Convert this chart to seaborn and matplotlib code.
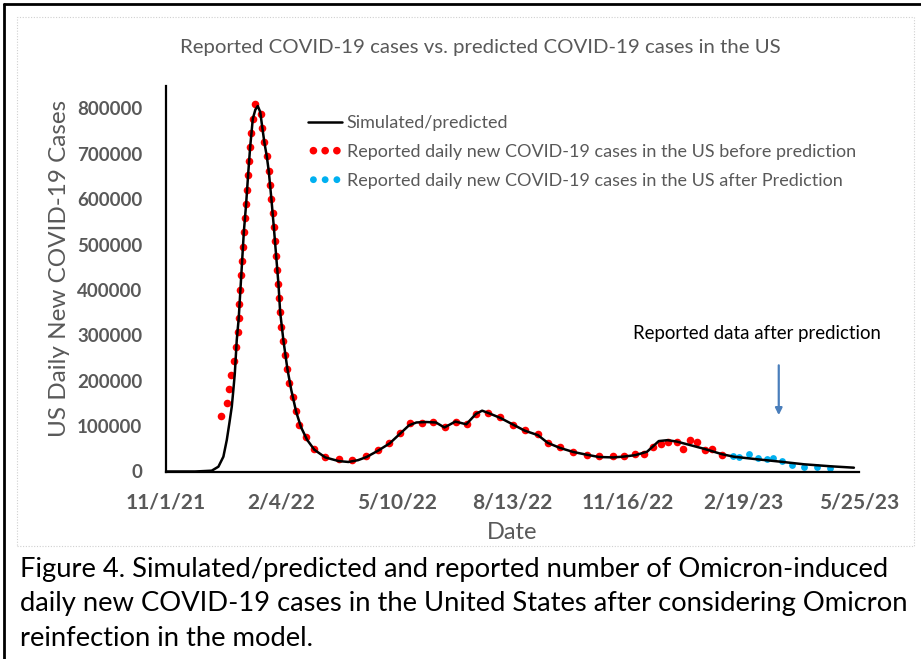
import numpy as np
import pandas as pd
import seaborn as sns
import matplotlib.pyplot as plt
from matplotlib.lines import Line2D
from matplotlib.patches import Rectangle


# days after 11/1/21, values in thousands
sim_days = [0, 23.9, 37.6, 43.1, 47.2, 50.0, 52.1, 54.1, 55.4, 56.6,
            57.4, 58.2, 59.8, 61.2, 62.6, 64.0, 65.9, 67.5, 69.2, 71.4,
            73.5, 75.5, 77.5, 79.3, 80.9, 82.9, 84.5, 86.7, 88.7, 90.6,
            92.5, 93.9, 96.6, 99.9, 103.0, 107.0, 111.0, 116.0, 122.0, 131.0,
            142, 150, 158, 165, 174.5, 184, 192, 200, 206, 214,
            222, 229, 238, 247, 255, 260, 265, 275, 285, 295,
            306, 314, 324, 335, 346, 356, 368, 377, 386, 395.7,
            400, 405.3, 412.4, 420, 431.4, 443.2, 457.5, 467, 486.3, 505.5,
            524.7, 546.6, 565.8]
sim_vals = [0, 0, 1.8, 10.6, 32.6, 69.4, 106, 142.7, 179.5, 216,
            252.8, 289.6, 337, 400, 463, 527, 589, 652, 714, 777,
            797, 805, 792, 756, 725, 694, 662, 600, 538, 475,
            413, 351, 288, 225, 180, 132, 98, 70, 48, 31,
            23, 21, 25, 32, 46, 62, 82, 102, 108, 109,
            108, 97, 110, 104, 127, 134, 129, 118, 104, 90,
            80, 63, 52, 43, 37, 32, 31, 33, 36, 43.6,
            54, 67, 69, 66, 58, 49.5, 38, 32.6, 26.9, 21.6,
            15.9, 11.5, 8.4]

before_days = [45.3, 50.0, 52.1, 53.5, 56.0, 57.6, 59.0, 59.8, 60.3, 61.2,
               62.0, 62.6, 63.1, 64.0, 64.8, 65.9, 66.7, 67.5, 68.1, 69.2,
               70.0, 71.4, 73.0, 78.0, 79.3, 80.9, 82.9, 84.5, 85.9, 86.7,
               87.8, 88.7, 89.5, 90.6, 91.4, 92.5, 93.0, 93.9, 94.9, 96.6,
               98.2, 99.9, 101.5, 104.8, 107.0, 109.7, 115.3, 122.1, 131.1, 142.2,
               153.1, 164.7, 174.5, 183.8, 192.1, 200.3, 210.8, 219.6, 229.1, 238.2,
               247.5, 254.7, 265.1, 275.0, 285.4, 295.5, 306.0, 314.5, 324.4, 334.8,
               346.0, 356.2, 367.7, 376.8, 385.8, 393.3, 400.7, 407.3, 412.5, 419.9,
               425.6, 431.4, 436.9, 443.2, 449.5, 457.5]
before_vals = [122.9, 151.5, 181.7, 212.5, 244.0, 274.8, 306.5, 337.3, 369.5, 400.3,
               432.7, 463.5, 495.0, 526.7, 557.5, 589.0, 619.9, 652.2, 683.1, 713.9,
               745.4, 776.9, 808.6, 787.2, 755.7, 724.9, 694.1, 662.4, 631.5, 600.0,
               569.2, 538.4, 506.9, 475.2, 444.4, 412.9, 381.4, 350.6, 318.8, 288.0,
               255.9, 225.0, 194.2, 164.0, 132.6, 103.1, 75.3, 50.2, 32.6, 26.9,
               25.3, 33.5, 47.3, 62.8, 84.1, 106.1, 106.1, 109.7, 98.0, 109.7,
               103.9, 126.6, 129.5, 119.3, 103.1, 90.7, 81.9, 62.1, 53.9, 42.9,
               37.0, 34.1, 34.8, 34.1, 39.2, 37.9, 53.9, 61.2, 65.6, 64.3,
               49.5, 68.7, 65.0, 48.0, 49.5, 35.7]

after_days = [466.5, 471.2, 479.7, 486.8, 494.0, 499.2, 506.3, 514.8, 524.7, 535.1, 545.8]
after_vals = [33.5, 31.9, 37.5, 29.1, 27.2, 30.4, 23.5, 14.0, 11.0, 9.5, 7.7]

tick_dates = ['2021-11-01', '2022-02-04', '2022-05-10', '2022-08-13',
              '2022-11-16', '2023-02-19', '2023-05-25']
tick_labels = ['11/1/21', '2/4/22', '5/10/22', '8/13/22', '11/16/22', '2/19/23', '5/25/23']
y_ticks = [0, 100000, 200000, 300000, 400000, 500000, 600000, 700000, 800000]

start = pd.Timestamp('2021-11-01')


def to_dates(days):
    return start + pd.to_timedelta(np.array(days), unit='D')


sns.set_style('white')
plt.rcParams['font.family'] = ['Lato', 'DejaVu Sans']
grey = '#595959'

fig = plt.figure(figsize=(9.21, 6.59), dpi=100)
ax = fig.add_axes([166/921, 1-471.5/659, (859-166)/921, (471.5-85.6)/659])

sns.lineplot(x=to_dates(sim_days), y=np.array(sim_vals)*1000, color='black', lw=1.8,
             label='Simulated/predicted', ax=ax)
sns.scatterplot(x=to_dates(before_days), y=np.array(before_vals)*1000, color='#FF0000',
                s=30, linewidth=0, label='Reported daily new COVID-19 cases in the US before prediction', ax=ax)
sns.scatterplot(x=to_dates(after_days), y=np.array(after_vals)*1000, color='#00B0F0',
                s=24, linewidth=0, label='Reported daily new COVID-19 cases in the US after Prediction', ax=ax)

ax.set_xlim(pd.Timestamp(tick_dates[0]), pd.Timestamp(tick_dates[-1]))
ax.set_ylim(0, 850000)
ax.set_xticks(pd.to_datetime(tick_dates))
ax.set_xticklabels(tick_labels)
ax.set_yticks(y_ticks)
ax.set_yticklabels([str(v) for v in y_ticks])

for s in ['top', 'right']:
    ax.spines[s].set_visible(False)
for s in ['left', 'bottom']:
    ax.spines[s].set_color('black')
    ax.spines[s].set_linewidth(1.6)
ax.tick_params(axis='both', direction='out', length=5, width=1.6, color='black',
               labelcolor=grey)
ax.tick_params(axis='y', pad=12, labelsize=13.5)
ax.tick_params(axis='x', pad=10, labelsize=15)
for lab in ax.get_xticklabels() + ax.get_yticklabels():
    lab.set_fontweight('bold')

ax.set_xlabel('Date', fontsize=17, color=grey)
ax.set_ylabel('US Daily New COVID-19 Cases', fontsize=17.5, color=grey)
ax.xaxis.set_label_coords(0.5, -0.131)
ax.yaxis.set_label_coords(-0.138, 0.525)

ax.legend(loc='upper left', bbox_to_anchor=(308/921, 1-115/659), bbox_transform=fig.transFigure,
          frameon=False, fontsize=13.0, scatterpoints=3, scatteryoffsets=[0.5],
          handlelength=1.9, handletextpad=0.25, labelspacing=0.72, borderpad=0,
          borderaxespad=0, labelcolor=grey)

# annotation for the data after the prediction
ax.text(to_dates([486])[0], 305000, 'Reported data after prediction', fontsize=13.4,
        color='black', ha='center', va='center')
ax.annotate('', xy=(to_dates([504])[0], 118000), xytext=(to_dates([504])[0], 240000),
            arrowprops=dict(arrowstyle='-|>', color='#4A7EBB', lw=1.6, mutation_scale=10))

fig.text(480/921, 1-48/659, 'Reported COVID-19 cases vs. predicted COVID-19 cases in the US',
         fontsize=14.7, color=grey, ha='center', va='center')

# figure frame and chart area border
fig.add_artist(Line2D([4/921, 4/921], [0, 1-4/659], color='black', lw=2, transform=fig.transFigure))
fig.add_artist(Line2D([4/921, 1], [1-4/659, 1-4/659], color='black', lw=2, transform=fig.transFigure))
fig.add_artist(Rectangle((17/921, 1-546/659), (914-17)/921, (546-17)/659, fill=False,
                         ec='#D0D0D0', lw=0.8, ls=(0, (1, 1.5)), transform=fig.transFigure))

caption = ['Figure 4. Simulated/predicted and reported number of Omicron-induced',
           'daily new COVID-19 cases in the United States after considering Omicron',
           'reinfection in the model.']
for i, line in enumerate(caption):
    fig.text(20/921, 1-(569+35*i)/659, line, fontsize=19.7, color='black', ha='left', va='center')

fig.savefig('out.png', dpi=100)
